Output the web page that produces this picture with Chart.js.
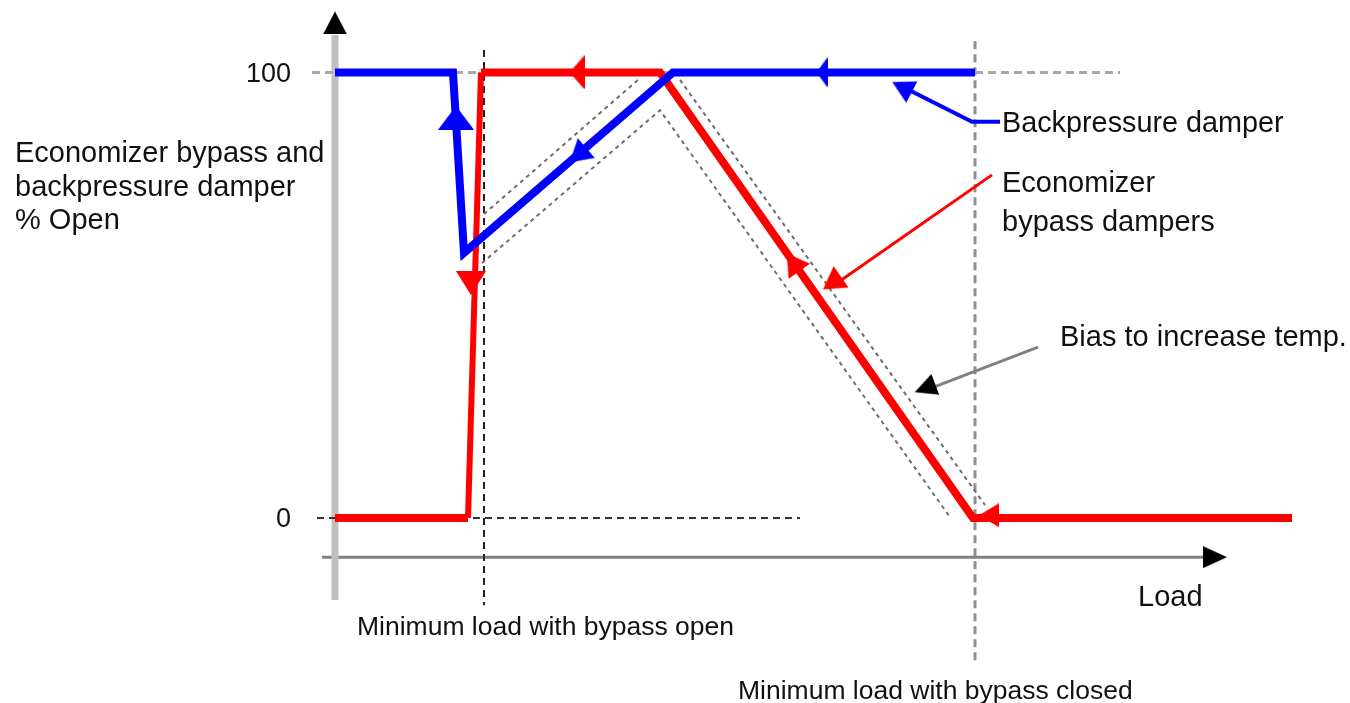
<!DOCTYPE html>
<html><head><meta charset="utf-8">
<script src="https://cdn.jsdelivr.net/npm/chart.js@4"></script>
<style>
html,body{margin:0;padding:0;background:#fff;}
#wrap{position:relative;width:1350px;height:703px;overflow:hidden;background:#fff;}
canvas{position:absolute;left:0;top:0;}
.t{position:absolute;font-family:"Liberation Sans",Arial,sans-serif;color:#111;white-space:nowrap;line-height:1;}
</style></head><body>
<div id="wrap"><canvas id="c" width="1350" height="703"></canvas></div>
<script>
// ---- data (x = load, y = % open) ----
const backpressureX = [0, 11.8, 12.9, 33.8, 64];
const backpressureY = [100, 100, 59.5, 100, 100];
const bypassX = [0, 13.3, 14.6, 32.5, 63.8, 95.7];
const bypassY = [0, 0, 100, 100, 0, 0];
const biasUpperRiseX = [14.9, 30.5];
const biasUpperRiseY = [68.2, 98.7];
const biasUpperFallX = [34.5, 65.0];
const biasUpperFallY = [98.3, 2.9];
const biasLowerX = [14.7, 32.5, 61.5];
const biasLowerY = [57.2, 91.5, 0.2];
const minLoadOpenX = 14.9;
const minLoadClosedX = 64;
const yTickValues = [0, 100];
const yTickLabels = ['0', '100'];
const blueArrowX = [12.1, 24.3, 48.7, 56.7];
const blueArrowY = [89.8, 81.4, 100, 96.7];
const redArrowX = [13.6, 24.2, 45.8, 65.4, 49.7];
const redArrowY = [52.7, 100, 57.4, 0.6, 52.7];
const blackArrowX = [0, 88, 59.0];
const blackArrowY = [111.1, -8.8, 29.1];
const backpressureNoteX = [66.5, 63.7, 57.0];
const backpressureNoteY = [88.9, 88.9, 96.5];
const bypassNoteX = [65.7, 50.5];
const bypassNoteY = [77.0, 53.2];
const biasNoteX = [70.3, 59.8];
const biasNoteY = [38.35, 29.3];

// ---- styles ----
const blueArrowRot = [0, -130.8, -90, -62.7];
const blueArrowSize = [[36,24],[26,22],[30,11],[24,22]];
const redArrowRot = [180, -90, -35, -90, -124.8];
const redArrowSize = [[30,24],[34,15],[26,22],[24,20],[26,22]];
const blackArrowRot = [0, 90, -110.8];
const blackArrowSize = [[24,23],[22,24],[22,22]];

function pts(xs, ys){ return xs.map((x,i)=>({x:x, y:ys[i]})); }
function arrowImg(color, w, h){
  const c = document.createElement('canvas'); c.width = w; c.height = h;
  const g = c.getContext('2d'); g.fillStyle = color;
  g.beginPath(); g.moveTo(w/2,0); g.lineTo(w,h); g.lineTo(0,h); g.closePath(); g.fill();
  return c;
}
function line(label, data, color, width, dash, order, extra){
  return Object.assign({label, data, showLine:true, borderColor:color, backgroundColor:color,
    borderWidth:width, borderDash:dash||[], pointRadius:0, order:order, tension:0,
    borderCapStyle:'butt', borderJoinStyle:'miter'}, extra||{});
}
function arrows(label, data, color, sizes, rots, order){
  return {label, data, showLine:false, pointRadius:5, order:order,
    pointStyle: sizes.map(s=>arrowImg(color, s[0], s[1])), pointRotation: rots,
    backgroundColor:color, borderColor:color, borderWidth:0};
}

const datasets = [
  arrows('blueArrows', pts(blueArrowX, blueArrowY), '#0000ff', blueArrowSize, blueArrowRot, 0),
  arrows('redArrows', pts(redArrowX, redArrowY), '#ff0000', redArrowSize, redArrowRot, 1),
  arrows('blackArrows', pts(blackArrowX, blackArrowY), '#000000', blackArrowSize, blackArrowRot, 0),
  line('Backpressure damper', pts(backpressureX, backpressureY), '#0000ff', 8, null, 2),
  line('Economizer bypass dampers', pts(bypassX, bypassY), '#ff0000', 8, null, 3,
       {segment:{borderWidth: ctx => ctx.p0DataIndex === 1 ? 6 : 8}}),
  line('bpNote', pts(backpressureNoteX, backpressureNoteY), '#0000ff', 4, null, 2),
  line('byNote', pts(bypassNoteX, bypassNoteY), '#ff0000', 3, null, 3),
  line('biasNote', pts(biasNoteX, biasNoteY), '#808080', 3, null, 4),
  line('biasUpperRise', pts(biasUpperRiseX, biasUpperRiseY), '#6e6e6e', 2, [4,4], 5),
  line('biasUpperFall', pts(biasUpperFallX, biasUpperFallY), '#6e6e6e', 2, [4,4], 5),
  line('biasLower', pts(biasLowerX, biasLowerY), '#6e6e6e', 2, [4,4], 5),
  line('ref100', pts([-2.3, 78.5], [yTickValues[1], yTickValues[1]]), '#a8a8a8', 3, [8,5], 6),
  line('ref0', pts([-1.8, 46.5], [yTickValues[0], yTickValues[0]]), '#333333', 2, [7,5], 6),
  line('minOpen', pts([minLoadOpenX, minLoadOpenX], [105, -19.6]), '#222222', 2, [7,5], 6),
  line('minClosed', pts([minLoadClosedX, minLoadClosedX], [107, -33]), '#909090', 3, [8,5], 6),
  line('yAxis', pts([0, 0], [-18.4, 108.4]), '#c0c0c0', 7, null, 7),
  line('xAxis', pts([-1.3, 87], [-8.8, -8.8]), '#808080', 3, null, 7)
];

const chart = new Chart(document.getElementById('c'), {
  type: 'scatter',
  data: { datasets },
  options: {
    responsive:false, animation:false, events:[],
    layout:{padding:{left:285,right:55,top:10,bottom:38}},
    scales:{
      x:{type:'linear', min:-5, max:96, display:false},
      y:{type:'linear', min:-33, max:114, display:false}
    },
    plugins:{legend:{display:false}, tooltip:{enabled:false}}
  }
});

// ---- text ----
const wrap = document.getElementById('wrap');
function addText(str, x, baseline, size, alignRight){
  const d = document.createElement('div'); d.className = 't'; d.textContent = str;
  d.style.fontSize = size + 'px';
  d.style.top = (baseline - 0.8465*size) + 'px';
  if (alignRight) d.style.right = (1350 - x) + 'px'; else d.style.left = x + 'px';
  wrap.appendChild(d);
}
const ys = chart.scales.y;
yTickValues.forEach((v,i)=>{ addText(yTickLabels[i], 291, ys.getPixelForValue(v) + 10, 27, true); });
addText('Economizer bypass and', 15, 163, 29);
addText('backpressure damper', 15, 197, 29);
addText('% Open', 15, 230, 29);
addText('Backpressure damper', 1002, 132, 28.8);
addText('Economizer', 1002, 193, 29);
addText('bypass dampers', 1002, 232, 29);
addText('Bias to increase temp.', 1060, 347, 29);
addText('Load', 1138, 607, 29);
addText('Minimum load with bypass open', 357, 635, 26.5);
addText('Minimum load with bypass closed', 738, 699, 26.5);
</script>
</body></html>
